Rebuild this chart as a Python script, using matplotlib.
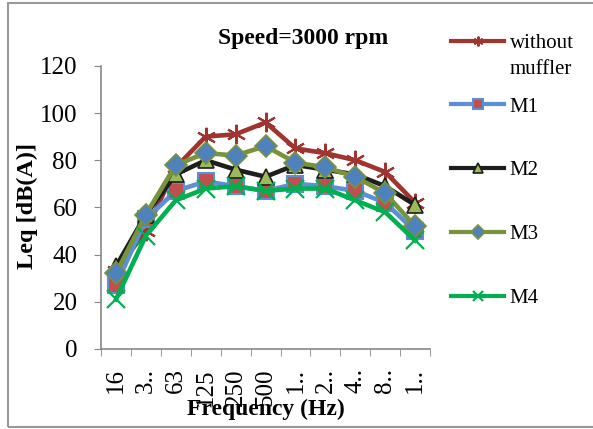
import matplotlib.pyplot as plt
from matplotlib.patches import Rectangle

plt.rcParams['font.family'] = ['Liberation Serif', 'DejaVu Serif']

freq_labels = ['16', '3..', '63', '125', '250', '500', '1..', '2..', '4..', '8..', '1..']

without_muffler = [33, 50, 77, 90, 91, 96, 85, 83, 80, 75, 62]
m1 = [27, 55, 67, 71, 69, 67, 70, 69, 67, 62, 50]
m2 = [35, 57, 74, 80, 76, 73, 78, 76, 74, 69, 61]
m3 = [32, 57, 78, 83, 82, 86, 79, 77, 73, 66, 52]
m4 = [21, 48, 63, 68, 69, 67, 68, 68, 63, 58, 46]

series = [
    ('without', without_muffler, dict(color='#A0342F', marker=(6, 2, 0), ms=14,
                                      mec='#A0342F', mew=1.5)),
    ('M1', m1, dict(color='#5B8FD6', marker='s', ms=12, mfc='#C0504D', mec='#5B8FD6', mew=1.5)),
    ('M2', m2, dict(color='#1E1E1E', marker='^', ms=12, mfc='#9BBB59', mec='#1E1E1E', mew=1.2)),
    ('M3', m3, dict(color='#77933C', marker='D', ms=11, mfc='#4F81BD', mec='#77933C', mew=1.2)),
    ('M4', m4, dict(color='#00B050', marker='x', ms=13, mec='#00B050', mew=1.6)),
]

fig = plt.figure(figsize=(5.93, 4.29), dpi=100)
ax = fig.add_axes([0.1703, 0.1865, 0.555, 0.66])

x = list(range(len(freq_labels)))
for i, (name, vals, style) in enumerate(series):
    ax.plot(x, vals, lw=3.3, label=name, zorder=3 + i, **style)

ax.set_xlim(-0.5, len(freq_labels) - 0.5)
ax.set_ylim(0, 120)
ax.set_yticks(range(0, 121, 20))
ax.set_xticks(x)
ax.set_xticklabels(freq_labels, rotation=90, fontsize=18)
ax.set_xticks([i - 0.5 for i in range(len(freq_labels) + 1)], minor=True)
ax.tick_params(axis='x', which='major', length=0, pad=14)
ax.tick_params(axis='x', which='minor', length=5, color='#888888', direction='out')
ax.tick_params(axis='y', length=5, color='#888888', labelsize=18, pad=12, direction='out')

for side in ('top', 'right'):
    ax.spines[side].set_visible(False)
for side in ('left', 'bottom'):
    ax.spines[side].set_color('#888888')
    ax.spines[side].set_linewidth(1.2)

ax.set_ylabel('Leq [dB(A)]', fontsize=17.5, fontweight='bold')
ax.yaxis.set_label_coords(-0.19, 0.505)
ax.set_xlabel('Frequency (Hz)', fontsize=17, fontweight='bold')
ax.xaxis.set_label_coords(0.5, -0.175)
fig.text(0.511, 0.911, 'Speed=3000 rpm', fontsize=17, fontweight='bold',
         ha='center', va='center')

leg = ax.legend(loc='upper left', bbox_to_anchor=(0.747, 1 - 25 / 429),
                bbox_transform=fig.transFigure, frameon=False,
                fontsize=15, handlelength=2.55, handletextpad=0.25,
                labelspacing=2.12, borderaxespad=0)
for h in leg.legend_handles:
    h.set_markersize(7)
    h.set_linewidth(3)

# second line of the first legend label
ax.annotate('muffler', xy=(0, 0), xycoords=leg.get_texts()[0],
            xytext=(0, -5), textcoords='offset points',
            ha='left', va='top', fontsize=15, zorder=7, annotation_clip=False)

# chart area border
fig.patches.append(Rectangle((8 / 593, 2 / 429), 1.0, 424 / 429, transform=fig.transFigure,
                             fill=False, edgecolor='#999999', lw=1.5))

fig.savefig('out.png', dpi=100)
